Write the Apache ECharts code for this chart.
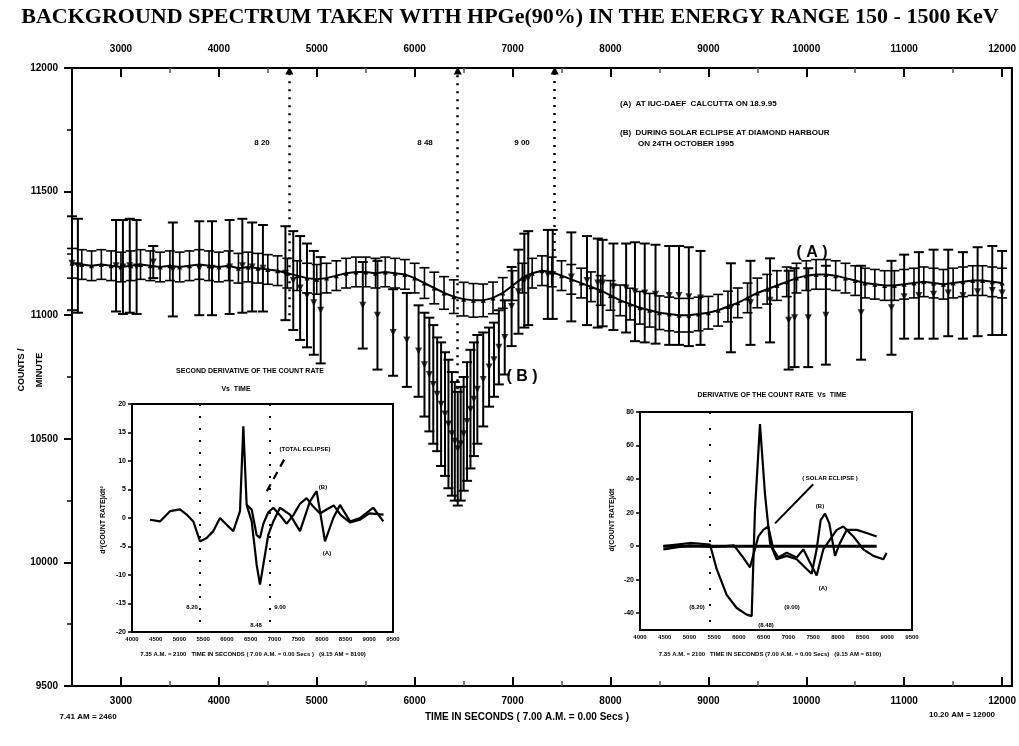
<!DOCTYPE html>
<html><head><meta charset="utf-8">
<script src="https://cdn.jsdelivr.net/npm/echarts@6/dist/echarts.min.js"></script>
<style>html,body{margin:0;padding:0;background:#fff}#c{width:1019px;height:746px}</style>
</head><body><div id="c"></div>
<script>
// ---------- main chart data ----------
const xTickValues = [3000,4000,5000,6000,7000,8000,9000,10000,11000,12000];
const xMidTicks = [3500,4500,5500,6500,7500,8500,9500,10500,11500];
const yTickValues = [9500,10000,10500,11000,11500,12000];

// (A) normal day at Calcutta
const timesA = [2500,2600,2700,2800,2900,3000,3100,3200,3300,3400,3500,3600,3700,3800,3900,4000,4100,4200,4300,4400,
4500,4600,4700,4800,4900,5000,5100,5200,5300,5400,5500,5600,5700,5800,5900,6000,6100,6200,6300,6400,
6500,6600,6700,6800,6900,7000,7100,7200,7300,7400,7500,7600,7700,7800,7900,8000,8100,8200,8300,8400,
8500,8600,8700,8800,8900,9000,9100,9200,9300,9400,9500,9600,9700,9800,9900,10000,10100,10200,10300,10400,
10500,10600,10700,10800,10900,11000,11100,11200,11300,11400,11500,11600,11700,11800,11900,12000];
const countsA = [11210,11205,11200,11205,11200,11195,11200,11205,11200,11195,11200,11195,11200,11205,11200,11195,11200,11190,11195,11190,
11185,11180,11170,11160,11150,11145,11150,11160,11170,11175,11175,11170,11175,11170,11165,11150,11130,11110,11090,11075,
11065,11060,11060,11070,11090,11120,11150,11170,11180,11175,11160,11145,11130,11115,11100,11080,11060,11045,11030,11020,
11010,11005,11000,11000,11005,11010,11020,11035,11050,11070,11090,11105,11120,11135,11150,11160,11165,11165,11160,11150,
11140,11130,11125,11120,11120,11125,11130,11135,11130,11125,11130,11135,11140,11140,11135,11130];
const errA = [60,60,60,60,60,60,60,60,60,60,60,60,60,60,60,60,60,60,60,60,
60,60,60,60,60,60,60,60,60,60,60,60,60,60,60,60,62,64,66,68,
68,68,66,64,62,60,60,60,60,60,60,60,60,60,60,60,62,64,66,68,
68,68,68,68,68,66,64,62,60,60,60,60,60,60,60,60,60,60,60,60,
60,60,60,60,60,60,60,60,60,60,60,60,60,60,60,60];

// (B) during solar eclipse at Diamond Harbour
const timesB = [2500,2560,2950,3020,3090,3160,3330,3530,3800,3930,
4110,4240,4340,4450,4680,4760,4830,4900,4970,5040,
5470,5620,5780,5920,6040,6100,6150,6190,6230,6270,
6310,6345,6380,6410,6440,6470,6500,6535,6570,6605,
6640,6700,6760,6810,6860,6920,6990,7060,7120,7160,
7360,7410,7600,7760,7870,7920,8030,8160,8250,8350,
8460,8600,8700,8800,8920,9230,9430,9630,9820,9880,
10020,10200,10560,10870,11000,11150,11300,11450,11600,11750,
11900,12000];
const countsB = [11210,11200,11200,11195,11200,11195,11215,11185,11190,11190,
11195,11200,11195,11190,11170,11140,11110,11080,11050,11020,
11040,11000,10930,10900,10855,10800,10760,10720,10680,10640,
10600,10560,10520,10490,10460,10480,10520,10570,10620,10660,
10700,10740,10790,10820,10870,10910,11035,11095,11140,11150,
11165,11165,11155,11140,11130,11130,11115,11110,11095,11090,
11085,11080,11080,11075,11070,11030,11050,11060,10980,10990,
10990,11000,11010,11030,11075,11080,11085,11090,11080,11095,
11100,11090];
const errB = [190,190,185,190,190,190,65,190,190,190,
190,190,180,175,190,200,210,210,210,215,
175,220,175,190,185,210,230,240,230,250,
250,260,250,240,230,230,230,240,240,230,
220,190,160,150,150,150,160,170,190,190,
180,180,180,180,180,175,175,180,200,200,
200,200,200,200,190,180,170,170,200,200,
200,200,190,190,170,175,180,175,175,180,
180,170];

// vertical time markers (seconds, label)
const markTimes = [4720, 6440, 7430];
const markEnds = [11000, 10700, 11260];
const markLabels = ['8 20', '8 48', '9 00'];

// ---------- left inset: second derivative ----------
const secTime1 = [4379,4590,4800,5011,5152,5292,5433,5573,5714,5854,5995,6135,6276,6346,6416,6522,6627,6697,6767,6873,6978,7118,7329,7540,7750,7891,7961,8067,8242,8383,8594,8804,9085,9296];
const secEclipse = [-0.3,-0.6,1.2,1.5,0.6,-0.6,-4.1,-3.5,-2.3,0,-1.2,-2.3,1.2,16.1,2.3,-0.6,-8.2,-11.7,-8.2,-2.9,-0.6,1.8,0.6,-2.3,2.9,4.7,1.2,-4.1,0,2.3,-0.6,0,1.8,-0.6];
const secTime2 = [6416,6522,6627,6697,6767,6873,6978,7118,7260,7400,7540,7680,7820,7961,8100,8250,8400,8600,8800,9000,9300];
const secNormal = [2.3,1.5,-3.0,-3.5,-1.0,1.0,1.8,0.5,-1.0,0.5,2.5,3.5,2.0,0.8,1.5,2.2,0.5,-0.8,-0.3,0.8,0.6];

// ---------- right inset: first derivative ----------
const derTime1 = [4472,5011,5415,5550,5752,5955,6157,6258,6325,6426,6527,6629,6763,6966,7168,7370,7471,7572,7653,7741,7828,7943,8044,8179,8381,8583,8785];
const derEclipse = [0,1.9,1.0,-13.6,-29.1,-36.9,-40.8,-41.7,21.4,72.8,31.1,1.9,-7.8,-5.8,-7.8,-13.6,-16.5,-1.9,15.5,19.4,13.6,-5.8,1.9,9.7,9.7,7.8,5.8];
const derTime2 = [4472,5000,5500,5900,6088,6224,6393,6493,6594,6695,6797,6966,7168,7303,7437,7572,7707,7977,8111,8314,8516,8718,8920,8987];
const derNormal = [-1.9,0.5,-0.5,0.5,-6.8,-12.6,5.8,9.7,11.7,-1.9,-6.8,-3.9,-6.8,-1.9,-9.7,-17.5,-1.9,9.7,11.7,5.8,-1.9,-5.8,-7.8,-3.9];
const derZeroTime = [4472, 8785];
const derZero = [0, 0];
const insetTickValues = [4000,4500,5000,5500,6000,6500,7000,7500,8000,8500,9000,9500];

// ---------- chart ----------
const chart = echarts.init(document.getElementById('c'), null, {renderer:'canvas'});
const F = 'Liberation Sans';
const black = '#000';

function errBar(cap, lw){
  return function(params, api){
    const x = api.value(0), y = api.value(1), e = api.value(2);
    const hi = api.coord([x, y + e]), lo = api.coord([x, y - e]);
    const st = {stroke: black, lineWidth: lw};
    return {type:'group', children:[
      {type:'line', shape:{x1:hi[0], y1:hi[1], x2:lo[0], y2:lo[1]}, style:st},
      {type:'line', shape:{x1:hi[0]-cap, y1:hi[1], x2:hi[0]+cap, y2:hi[1]}, style:st},
      {type:'line', shape:{x1:lo[0]-cap, y1:lo[1], x2:lo[0]+cap, y2:lo[1]}, style:st}
    ]};
  };
}
const zip2 = (a,b) => a.map((v,i)=>[v,b[i]]);
const zip3 = (a,b,c) => a.map((v,i)=>[v,b[i],c[i]]);
const plain = v => String(v);

const axisLineStyle = {show:true, lineStyle:{color:black, width:2}};
const lbl = (size) => ({color:black, fontFamily:F, fontWeight:'bold', fontSize:size});

const option = {
  backgroundColor:'#fff',
  animation:false,
  grid:[
    {left:72, right:7, top:68, bottom:60, show:true, borderColor:black, borderWidth:2, backgroundColor:'transparent'},
    {left:132, right:626, top:404, bottom:114, show:true, borderColor:black, borderWidth:2, backgroundColor:'#fff', z:5},
    {left:640, right:107, top:412, bottom:116, show:true, borderColor:black, borderWidth:2, backgroundColor:'#fff', z:5}
  ],
  xAxis:[
    {gridIndex:0, type:'value', min:2500, max:12100, interval:500, position:'bottom',
     axisLine:axisLineStyle, splitLine:{show:false},
     axisTick:{show:true, inside:true, length:9, lineStyle:{width:2}, customValues:xTickValues},
     axisLabel:Object.assign(lbl(10), {margin:10, customValues:xTickValues, formatter:v=> v%1000===0 ? String(v) : ''})},
    {gridIndex:0, type:'value', min:2500, max:12100, interval:500, position:'top',
     axisLine:axisLineStyle, splitLine:{show:false},
     axisTick:{show:true, inside:true, length:9, lineStyle:{width:2}, customValues:xTickValues},
     axisLabel:Object.assign(lbl(10), {margin:14, customValues:xTickValues, formatter:v=> v%1000===0 ? String(v) : ''})},
    {gridIndex:0, type:'value', min:2500, max:12100, interval:500, position:'bottom',
     axisLine:{show:false}, splitLine:{show:false}, axisLabel:{show:false},
     axisTick:{show:true, inside:true, length:5, lineStyle:{width:1.5}, customValues:xMidTicks}},
    {gridIndex:0, type:'value', min:2500, max:12100, interval:500, position:'top',
     axisLine:{show:false}, splitLine:{show:false}, axisLabel:{show:false},
     axisTick:{show:true, inside:true, length:5, lineStyle:{width:1.5}, customValues:xMidTicks}},
    {gridIndex:1, type:'value', min:4000, max:9500, interval:500,
     axisLine:{show:true, lineStyle:{color:black, width:2}}, splitLine:{show:false},
     axisTick:{show:false},
     axisLabel:Object.assign(lbl(6), {margin:4, customValues:insetTickValues, formatter:plain})},
    {gridIndex:2, type:'value', min:4000, max:9500, interval:500,
     axisLine:{show:true, lineStyle:{color:black, width:2}}, splitLine:{show:false},
     axisTick:{show:false},
     axisLabel:Object.assign(lbl(6), {margin:4, customValues:insetTickValues, formatter:plain})}
  ],
  yAxis:[
    {gridIndex:0, type:'value', min:9500, max:12000, interval:500,
     axisLine:axisLineStyle, splitLine:{show:false},
     axisTick:{show:true, inside:false, length:8, lineStyle:{width:2}},
     minorTick:{show:true, splitNumber:2, length:5, lineStyle:{color:black, width:1.5}},
     axisLabel:Object.assign(lbl(10), {margin:14, customValues:yTickValues, formatter:plain})},
    {gridIndex:0, type:'value', min:9500, max:12000, interval:500, position:'right',
     axisLine:axisLineStyle, splitLine:{show:false}, axisTick:{show:false}, axisLabel:{show:false}},
    {gridIndex:1, type:'value', min:-20, max:20, interval:5,
     axisLine:{show:true, lineStyle:{color:black, width:2}}, splitLine:{show:false},
     axisTick:{show:true, inside:false, length:4, lineStyle:{width:1.5}},
     axisLabel:Object.assign(lbl(7), {margin:6})},
    {gridIndex:2, type:'value', min:-50, max:80, interval:10,
     axisLine:{show:true, lineStyle:{color:black, width:2}}, splitLine:{show:false},
     axisTick:{show:true, inside:false, length:4, lineStyle:{width:1.5}, customValues:[-40,-20,0,20,40,60,80]},
     axisLabel:Object.assign(lbl(7), {margin:6, customValues:[-40,-20,0,20,40,60,80], formatter:v=> v%20===0 ? String(v) : ''})}
  ],
  series:[
    // (A) band: error bars + centre line
    {type:'custom', xAxisIndex:0, yAxisIndex:0, renderItem:errBar(5,1.6), data:zip3(timesA,countsA,errA), z:3, silent:true},
    {type:'line', xAxisIndex:0, yAxisIndex:0, data:zip2(timesA,countsA), symbol:'triangle', symbolSize:5,
     itemStyle:{color:black}, lineStyle:{color:black, width:2}, z:4, silent:true},
    // (B) eclipse series
    {type:'custom', xAxisIndex:0, yAxisIndex:0, renderItem:errBar(5,2), data:zip3(timesB,countsB,errB), z:3, silent:true},
    {type:'scatter', xAxisIndex:0, yAxisIndex:0, data:zip2(timesB,countsB), symbol:'triangle', symbolRotate:180, symbolSize:7,
     itemStyle:{color:black}, z:4, silent:true,
     markLine:{silent:true, symbol:['none','triangle'], symbolSize:8,
       lineStyle:{color:black, type:[2,6], width:2.5},
       label:{show:false},
       data: markTimes.map((t,i)=>[{coord:[t, markEnds[i]]},{coord:[t, 11990]}])}},
    // left inset
    {type:'line', xAxisIndex:4, yAxisIndex:2, data:zip2(secTime1,secEclipse), symbol:'none',
     lineStyle:{color:black, width:2.2}, z:6, silent:true,
     markLine:{silent:true, symbol:'none', label:{show:false}, lineStyle:{color:black, type:[2,10], width:2},
       data:[
         [{coord:[5433,20]},{coord:[5433,-20]}],
         [{coord:[6908,20]},{coord:[6908,-20]}],
         [{coord:[6841,4.7], lineStyle:{type:[8,6], width:2.2}},{coord:[7262,11.1]}]
       ]}},
    {type:'line', xAxisIndex:4, yAxisIndex:2, data:zip2(secTime2,secNormal), symbol:'none',
     lineStyle:{color:black, width:2.2}, z:6, silent:true},
    // right inset
    {type:'line', xAxisIndex:5, yAxisIndex:3, data:zip2(derTime1,derEclipse), symbol:'none',
     lineStyle:{color:black, width:2.2}, z:6, silent:true,
     markLine:{silent:true, symbol:'none', label:{show:false}, lineStyle:{color:black, type:[2,14], width:2},
       data:[
         [{coord:[5415,80]},{coord:[5415,-50]}],
         [{coord:[6730,13.6], lineStyle:{type:'solid', width:2}},{coord:[7503,36.9]}]
       ]}},
    {type:'line', xAxisIndex:5, yAxisIndex:3, data:zip2(derTime2,derNormal), symbol:'none',
     lineStyle:{color:black, width:2.2}, z:6, silent:true},
    {type:'line', xAxisIndex:5, yAxisIndex:3, data:zip2(derZeroTime,derZero), symbol:'none',
     lineStyle:{color:black, width:3}, z:6, silent:true}
  ],
  graphic:[
    {type:'text', x:510, y:17, z:20, style:{text:'BACKGROUND SPECTRUM TAKEN WITH HPGe(90%) IN THE ENERGY RANGE 150 - 1500 KeV',
      fill:black, font:'bold 22px "Liberation Serif"', align:'center', verticalAlign:'middle'}},
    {type:'text', x:22, y:370, rotation:Math.PI/2, z:20, style:{text:'COUNTS /', fill:black, font:'bold 9px "Liberation Sans"', align:'center', verticalAlign:'middle'}},
    {type:'text', x:40, y:370, rotation:Math.PI/2, z:20, style:{text:'MINUTE', fill:black, font:'bold 9px "Liberation Sans"', align:'center', verticalAlign:'middle'}},
    {type:'text', x:527, y:717, z:20, style:{text:'TIME IN SECONDS ( 7.00 A.M. = 0.00 Secs )', fill:black, font:'bold 10px "Liberation Sans"', align:'center', verticalAlign:'middle'}},
    {type:'text', x:88, y:717, z:20, style:{text:'7.41 AM = 2460', fill:black, font:'bold 8px "Liberation Sans"', align:'center', verticalAlign:'middle'}},
    {type:'text', x:962, y:715, z:20, style:{text:'10.20 AM = 12000', fill:black, font:'bold 8px "Liberation Sans"', align:'center', verticalAlign:'middle'}},
    {type:'text', x:620, y:104, z:20, style:{text:'(A)  AT IUC-DAEF  CALCUTTA ON 18.9.95', fill:black, font:'bold 8px "Liberation Sans"', align:'left', verticalAlign:'middle'}},
    {type:'text', x:620, y:133, z:20, style:{text:'(B)  DURING SOLAR ECLIPSE AT DIAMOND HARBOUR', fill:black, font:'bold 8px "Liberation Sans"', align:'left', verticalAlign:'middle'}},
    {type:'text', x:638, y:144, z:20, style:{text:'ON 24TH OCTOBER 1995', fill:black, font:'bold 8px "Liberation Sans"', align:'left', verticalAlign:'middle'}},
    {type:'text', x:262, y:143, z:20, style:{text:markLabels[0], fill:black, font:'bold 8px "Liberation Sans"', align:'center', verticalAlign:'middle'}},
    {type:'text', x:425, y:143, z:20, style:{text:markLabels[1], fill:black, font:'bold 8px "Liberation Sans"', align:'center', verticalAlign:'middle'}},
    {type:'text', x:522, y:143, z:20, style:{text:markLabels[2], fill:black, font:'bold 8px "Liberation Sans"', align:'center', verticalAlign:'middle'}},
    {type:'text', x:812, y:253, z:20, style:{text:'( A )', fill:black, font:'bold 16px "Liberation Sans"', align:'center', verticalAlign:'middle'}},
    {type:'text', x:522, y:377, z:20, style:{text:'( B )', fill:black, font:'bold 16px "Liberation Sans"', align:'center', verticalAlign:'middle'}},
    // left inset texts
    {type:'text', x:250, y:371, z:20, style:{text:'SECOND DERIVATIVE OF THE COUNT RATE', fill:black, font:'bold 7px "Liberation Sans"', align:'center', verticalAlign:'middle'}},
    {type:'text', x:236, y:389, z:20, style:{text:'Vs  TIME', fill:black, font:'bold 7px "Liberation Sans"', align:'center', verticalAlign:'middle'}},
    {type:'text', x:103, y:520, rotation:Math.PI/2, z:20, style:{text:'d²(COUNT RATE)/dt²', fill:black, font:'bold 7px "Liberation Sans"', align:'center', verticalAlign:'middle'}},
    {type:'text', x:305, y:449, z:20, style:{text:'(TOTAL ECLIPSE)', fill:black, font:'bold 6px "Liberation Sans"', align:'center', verticalAlign:'middle'}},
    {type:'text', x:323, y:487, z:20, style:{text:'(B)', fill:black, font:'bold 6px "Liberation Sans"', align:'center', verticalAlign:'middle'}},
    {type:'text', x:327, y:553, z:20, style:{text:'(A)', fill:black, font:'bold 6px "Liberation Sans"', align:'center', verticalAlign:'middle'}},
    {type:'text', x:192, y:607, z:20, style:{text:'8.20', fill:black, font:'bold 6px "Liberation Sans"', align:'center', verticalAlign:'middle'}},
    {type:'text', x:280, y:607, z:20, style:{text:'9.00', fill:black, font:'bold 6px "Liberation Sans"', align:'center', verticalAlign:'middle'}},
    {type:'text', x:256, y:625, z:20, style:{text:'8.48', fill:black, font:'bold 6px "Liberation Sans"', align:'center', verticalAlign:'middle'}},
    {type:'text', x:253, y:654, z:20, style:{text:'7.35 A.M. = 2100   TIME IN SECONDS ( 7.00 A.M. = 0.00 Secs )   (9.15 AM = 8100)', fill:black, font:'bold 6px "Liberation Sans"', align:'center', verticalAlign:'middle'}},
    // right inset texts
    {type:'text', x:772, y:395, z:20, style:{text:'DERIVATIVE OF THE COUNT RATE  Vs  TIME', fill:black, font:'bold 7px "Liberation Sans"', align:'center', verticalAlign:'middle'}},
    {type:'text', x:612, y:520, rotation:Math.PI/2, z:20, style:{text:'d(COUNT RATE)/dt', fill:black, font:'bold 7px "Liberation Sans"', align:'center', verticalAlign:'middle'}},
    {type:'text', x:830, y:478, z:20, style:{text:'( SOLAR ECLIPSE )', fill:black, font:'bold 6px "Liberation Sans"', align:'center', verticalAlign:'middle'}},
    {type:'text', x:820, y:506, z:20, style:{text:'(B)', fill:black, font:'bold 6px "Liberation Sans"', align:'center', verticalAlign:'middle'}},
    {type:'text', x:823, y:588, z:20, style:{text:'(A)', fill:black, font:'bold 6px "Liberation Sans"', align:'center', verticalAlign:'middle'}},
    {type:'text', x:697, y:607, z:20, style:{text:'(8.20)', fill:black, font:'bold 6px "Liberation Sans"', align:'center', verticalAlign:'middle'}},
    {type:'text', x:792, y:607, z:20, style:{text:'(9.00)', fill:black, font:'bold 6px "Liberation Sans"', align:'center', verticalAlign:'middle'}},
    {type:'text', x:766, y:625, z:20, style:{text:'(8.48)', fill:black, font:'bold 6px "Liberation Sans"', align:'center', verticalAlign:'middle'}},
    {type:'text', x:770, y:654, z:20, style:{text:'7.35 A.M. = 2100   TIME IN SECONDS (7.00 A.M. = 0.00 Secs)   (9.15 AM = 8100)', fill:black, font:'bold 6px "Liberation Sans"', align:'center', verticalAlign:'middle'}}
  ]
};
chart.setOption(option);
</script>
</body></html>
